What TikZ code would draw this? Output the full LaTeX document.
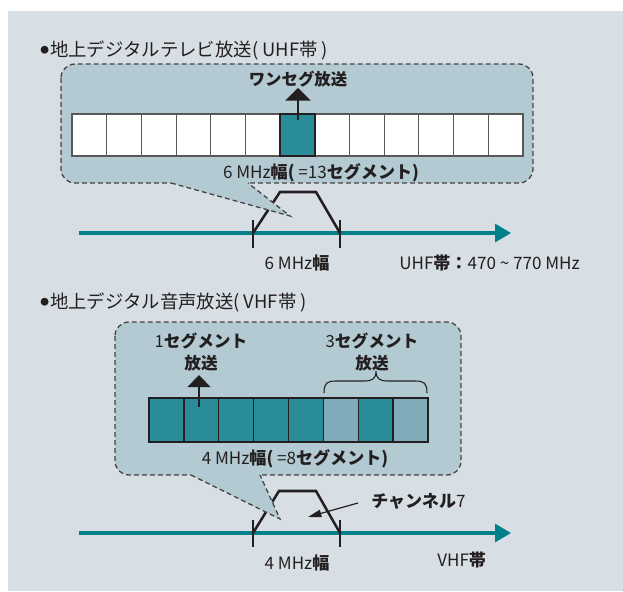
\documentclass[tikz,border=0pt]{standalone}
\usepackage{fontspec}
\setmainfont{Noto Sans CJK JP}
\usetikzlibrary{arrows.meta}
\definecolor{bgc}{HTML}{D7DFE5}
\definecolor{callc}{HTML}{B3CAD2}
\definecolor{tealc}{HTML}{2A8C99}
\definecolor{ltealc}{HTML}{80ACB9}
\definecolor{axisc}{HTML}{00818A}
\definecolor{inkc}{HTML}{231F20}
\newcommand\jb[1]{{\bfseries #1}}
\newcommand\bul{\raisebox{1.6pt}{\fontsize{6.5}{7}\selectfont ●}\hspace{0.8pt}}
\begin{document}
\begin{tikzpicture}[x=0.75pt,y=-0.75pt,
  lbl/.style={text=inkc,inner sep=0pt,font=\fontsize{12.8}{15}\selectfont},
  ttl/.style={text=inkc,inner sep=0pt,anchor=west,font=\fontsize{13.8}{16}\selectfont},
  dashborder/.style={draw=inkc!85,line width=0.95pt,dash pattern=on 3.6pt off 2.4pt},
  cellw/.style={draw=inkc!75,line width=0.8pt,fill=white,minimum width=26.02pt,minimum height=31.5pt,inner sep=0pt,outer sep=0pt},
  cellb/.style={draw=inkc,line width=1.1pt,minimum width=26.16pt,minimum height=33pt,inner sep=0pt,outer sep=0pt},
  upar/.style={draw=inkc,line width=1.6pt,-{Triangle[length=9.5pt,width=19pt]}},
  axisar/.style={draw=axisc,line width=2.3pt,-{Triangle[length=12pt,width=13.5pt]}},
  tickln/.style={draw=inkc,line width=1.9pt},
  trap/.style={draw=inkc,line width=1.9pt,line join=miter},
  charar/.style={draw=inkc,line width=0.9pt,-{Triangle[length=10pt,width=5.5pt]}},
  brc/.style={draw=inkc,line width=0.8pt}
]
\useasboundingbox (0,0) rectangle (623,591);
\fill[bgc] (8,11) rectangle (623,591);

% ===== Section 1 : UHF =====
\node[ttl] (title1) at (40,50) {\bul 地上デジタルテレビ放送( UHF帯 )};

% callout box 1
\fill[callc,rounded corners=10.5pt] (61,64) rectangle (533,183);
\draw[dashborder,rounded corners=10.5pt] (61,64) rectangle (533,183);

% cells
\foreach \i in {0,...,12}{
  \pgfmathsetmacro\cx{72+34.69*(\i+0.5)}
  \node[cellw] (u\i) at (\cx,135) {};
}
\node[cellb,fill=tealc,line width=1.5pt,minimum height=31.5pt] (u6b) at (u6) {};

\node[lbl,font=\fontsize{12.3}{15}\selectfont\bfseries] (oneseg) at (298,79) {ワンセグ放送};
\coordinate (ua1) at (298,120);
\coordinate (ua2) at (298,88);
\draw[upar] (ua1) -- (ua2);

\node[lbl] (w13) at (321,173) {6 MHz\jb{幅(} =13\jb{セグメント)}};

% axis 1
\coordinate (ax1s) at (79,233);
\coordinate (ax1e) at (511,233);
\draw[axisar] (ax1s) -- (ax1e);
\coordinate (tk1a) at (253,220); \coordinate (tk1b) at (253,248);
\coordinate (tk1c) at (340,220); \coordinate (tk1d) at (340,248);
\draw[tickln] (tk1a) -- (tk1b);
\draw[tickln] (tk1c) -- (tk1d);
\coordinate (tr1a) at (253,233); \coordinate (tr1b) at (280,192);
\coordinate (tr1c) at (316,192); \coordinate (tr1d) at (340,233);
\draw[trap] (tr1a) -- (tr1b) -- (tr1c) -- (tr1d);

% tail 1
\coordinate (tl1a) at (171,183); \coordinate (tl1b) at (290,216); \coordinate (tl1c) at (248,183);
\fill[callc] (171,181.5) -- (248,181.5) -- (tl1c) -- (tl1b) -- (tl1a) -- cycle;
\draw[dashborder] (tl1a) -- (tl1b) -- (tl1c);

\node[lbl] (w6) at (297,263) {6 MHz\jb{幅}};
\node[lbl,anchor=west] (uhf) at (399,263) {UHF\jb{帯：}470 \textasciitilde{} 770 MHz};

% ===== Section 2 : VHF =====
\node[ttl] (title2) at (40,302) {\bul 地上デジタル音声放送( VHF帯 )};

\fill[callc,rounded corners=10.5pt] (115,322) rectangle (461,475);
\draw[dashborder,rounded corners=10.5pt] (115,322) rectangle (461,475);

\foreach \i/\c in {0/tealc,1/tealc,2/tealc,3/tealc,4/tealc,5/ltealc,6/tealc,7/ltealc}{
  \pgfmathsetmacro\cx{149+34.875*(\i+0.5)}
  \node[cellb,fill=\c] (v\i) at (\cx,420) {};
}

\node[lbl,align=center,font=\fontsize{12.5}{16}\selectfont] (seg1) at (201,352) {1\jb{セグメント}\\\jb{放送}};
\node[lbl,align=center,font=\fontsize{12.5}{16}\selectfont] (seg3) at (372,352) {3\jb{セグメント}\\\jb{放送}};
\coordinate (va1) at (199,407);
\coordinate (va2) at (199,375);
\draw[upar,-{Triangle[length=9pt,width=17pt]}] (va1) -- (va2);

% brace
\coordinate (br1) at (324,393); \coordinate (br2) at (376,371); \coordinate (br3) at (427,393);
\draw[brc] (br1) .. controls (324,383) and (327,381) .. (336,381) -- (364,381)
  .. controls (372,381) and (376,379) .. (br2)
  .. controls (376,379) and (380,381) .. (388,381) -- (415,381)
  .. controls (424,381) and (427,383) .. (br3);

\node[lbl] (w8) at (295,459) {4 MHz\jb{幅(} =8\jb{セグメント)}};

% axis 2
\coordinate (ax2s) at (79,533);
\coordinate (ax2e) at (511,533);
\draw[axisar] (ax2s) -- (ax2e);
\coordinate (tk2a) at (253,520); \coordinate (tk2b) at (253,547);
\coordinate (tk2c) at (340,520); \coordinate (tk2d) at (340,547);
\draw[tickln] (tk2a) -- (tk2b);
\draw[tickln] (tk2c) -- (tk2d);
\coordinate (tr2a) at (253,533); \coordinate (tr2b) at (279,491);
\coordinate (tr2c) at (316,491); \coordinate (tr2d) at (340,533);
\draw[trap] (tr2a) -- (tr2b) -- (tr2c) -- (tr2d);

% tail 2
\coordinate (tl2a) at (191,475); \coordinate (tl2b) at (280,519); \coordinate (tl2c) at (260,475);
\fill[callc] (191,473.5) -- (260,473.5) -- (tl2c) -- (tl2b) -- (tl2a) -- cycle;
\draw[dashborder] (tl2a) -- (tl2b) -- (tl2c);

% channel 7
\node[lbl,anchor=west] (ch7) at (371,501) {\jb{チャンネル}7};
\coordinate (chs) at (358,503);
\coordinate (che) at (308,517);
\draw[charar] (chs) -- (che);

\node[lbl] (w4) at (297,563) {4 MHz\jb{幅}};
\node[lbl,anchor=west] (vhf) at (437,560) {VHF\jb{帯}};
\end{tikzpicture}
\end{document}
